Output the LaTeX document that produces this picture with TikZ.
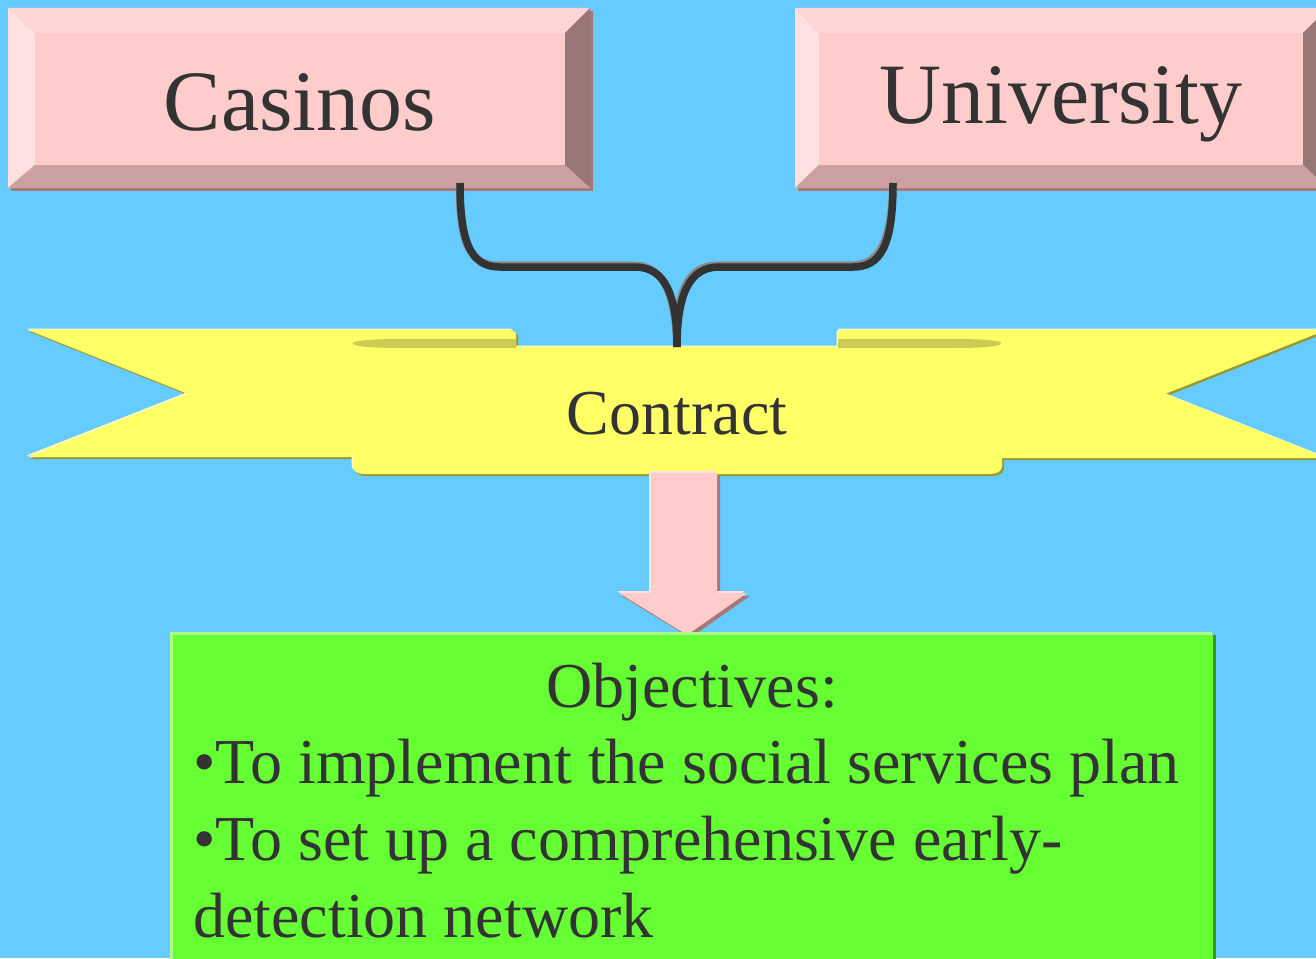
\documentclass[tikz,border=0pt]{standalone}
\usepackage{fontspec}
\setmainfont{Liberation Serif}
\usetikzlibrary{calc}
\definecolor{bg}{HTML}{66CCFF}
\definecolor{pinkface}{HTML}{FFCCCC}
\definecolor{pinktop}{HTML}{FFD6D6}
\definecolor{pinkleft}{HTML}{FFE0E0}
\definecolor{pinkright}{HTML}{997777}
\definecolor{pinkbot}{HTML}{CCA0A0}
\definecolor{pinkshadow}{HTML}{AA7777}
\definecolor{txt}{HTML}{333333}
\definecolor{ribbon}{HTML}{FFFF66}
\definecolor{ribbonfold}{HTML}{CCCC55}
\definecolor{ribbonshadow}{HTML}{999933}
\definecolor{ribbonhi}{HTML}{FFFFBB}
\definecolor{greenface}{HTML}{66FF33}
\definecolor{greenhi}{HTML}{AAFF88}
\definecolor{greenshadow}{HTML}{339922}
\definecolor{linehi}{HTML}{888888}
\tikzset{
  x=1pt, y=-1pt,
  bigtext/.style={text=txt, inner sep=0pt, font=\fontsize{86}{86}\selectfont},
  midtext/.style={text=txt, inner sep=0pt, font=\fontsize{64}{64}\selectfont},
  connector/.style={draw=txt, line width=7.5pt, line cap=butt, line join=round},
  connectorhi/.style={draw=linehi, line width=7.5pt, line cap=butt, line join=round},
}
\begin{document}
\begin{tikzpicture}
\useasboundingbox (0,0) rectangle (1316,958);
\clip (0,0) rectangle (1316,958);
\fill[bg] (0,0) rectangle (1316,958);

% ---------- Casinos bevel box ----------
\fill[pinkshadow] (11,11) rectangle (593,191);
\fill[pinktop]   (8,8) -- (590,8) -- (565,33) -- (35,33) -- cycle;
\fill[pinkleft]  (8,8) -- (35,33) -- (35,165) -- (8,188) -- cycle;
\fill[pinkright] (590,8) -- (590,188) -- (565,165) -- (565,33) -- cycle;
\fill[pinkbot]   (8,188) -- (590,188) -- (565,165) -- (35,165) -- cycle;
\fill[pinkface]  (35,33) rectangle (565,165);
\node[bigtext, anchor=base] (casinos) at (300,130) {Casinos};

% ---------- University bevel box ----------
\fill[pinkshadow] (798,11) rectangle (1331,191);
\fill[pinktop]   (795,8) -- (1328,8) -- (1303,33) -- (819,33) -- cycle;
\fill[pinkleft]  (795,8) -- (819,33) -- (819,165) -- (795,188) -- cycle;
\fill[pinkright] (1328,8) -- (1328,188) -- (1303,165) -- (1303,33) -- cycle;
\fill[pinkbot]   (795,188) -- (1328,188) -- (1303,165) -- (819,165) -- cycle;
\fill[pinkface]  (819,33) rectangle (1303,165);
\node[bigtext, anchor=base] (university) at (1061,123) {University};

% ---------- Ribbon banner ----------
\begin{scope}[shift={(2,2)}]
\fill[ribbonshadow] (28,330) -- (512,330) -- (516,334) -- (516,348) -- (353,348) -- (353,457) -- (28,457) -- (188,394) -- cycle;
\fill[ribbonshadow] (353,347) -- (1002,347) -- (1002,466) .. controls (1002,472) and (996,474) .. (990,474) -- (365,474) .. controls (357,474) and (353,471) .. (353,466) -- cycle;
\fill[ribbonshadow] (840,330) -- (1326,330) -- (1165,394) -- (1326,458) -- (1002,458) -- (1002,347) -- (838,347) -- (838,334) -- cycle;
\end{scope}
\begin{scope}[shift={(-1.5,-1.5)}]
\fill[ribbonhi] (28,330) -- (512,330) -- (516,334) -- (516,348) -- (353,348) -- (353,457) -- (28,457) -- (188,394) -- cycle;
\fill[ribbonhi] (353,347) -- (1002,347) -- (1002,466) .. controls (1002,472) and (996,474) .. (990,474) -- (365,474) .. controls (357,474) and (353,471) .. (353,466) -- cycle;
\fill[ribbonhi] (840,330) -- (1326,330) -- (1165,394) -- (1326,458) -- (1002,458) -- (1002,347) -- (838,347) -- (838,334) -- cycle;
\end{scope}
\fill[ribbon] (28,330) -- (508,330) .. controls (514,330) and (516,332) .. (516,336) -- (516,348) -- (353,348) -- (353,457) -- (28,457) -- (188,394) -- cycle;
\fill[ribbon] (353,347) -- (1002,347) -- (1002,466) .. controls (1002,472) and (996,474) .. (990,474) -- (365,474) .. controls (357,474) and (353,471) .. (353,466) -- cycle;
\fill[ribbon] (844,330) -- (1326,330) -- (1165,394) -- (1326,458) -- (1002,458) -- (1002,347) -- (838,347) -- (838,336) .. controls (838,332) and (840,330) .. (844,330) -- cycle;
\fill[ribbonfold] (516,339) -- (400,339) .. controls (360,339) and (350,342) .. (353,344) .. controls (356,347) and (380,348) .. (400,348) -- (516,348) -- cycle;
\fill[ribbonfold] (838,339) -- (955,339) .. controls (995,339) and (1004,342) .. (1001,344) .. controls (998,347) and (975,348) .. (955,348) -- (838,348) -- cycle;
\node[midtext, anchor=base] (contract) at (677,434) {Contract};

% ---------- Brace connector ----------
\coordinate (casout) at (460,183);
\coordinate (univout) at (893,183);
\coordinate (contractin) at (677,347);
\begin{scope}[shift={(-1.8,-1.8)}]
\draw[connectorhi] (casout) .. controls (460,245) and (472,267) .. (500,267) -- (635,267) .. controls (665,267) and (677,295) .. (contractin);
\draw[connectorhi] (univout) .. controls (893,245) and (881,267) .. (853,267) -- (719,267) .. controls (689,267) and (677,295) .. (contractin);
\end{scope}
\draw[connector] (casout) .. controls (460,245) and (472,267) .. (500,267) -- (635,267) .. controls (665,267) and (677,295) .. (contractin);
\draw[connector] (univout) .. controls (893,245) and (881,267) .. (853,267) -- (719,267) .. controls (689,267) and (677,295) .. (contractin);

% ---------- Pink arrow ----------
\fill[pinkshadow] (654,476) -- (720,476) -- (720,596) -- (750,596) -- (690,638) -- (622,596) -- (654,596) -- cycle;
\fill[pinkleft] (649,471) -- (715,471) -- (715,591) -- (745,591) -- (685,633) -- (617,591) -- (649,591) -- cycle;
\fill[pinkface] (651,473) -- (717,473) -- (717,593) -- (747,593) -- (687,635) -- (619,593) -- (651,593) -- cycle;

% ---------- Green box ----------
\fill[greenshadow] (173,635) rectangle (1216,970);
\fill[greenhi] (170,632) rectangle (1212,970);
\fill[greenface] (173,635) rectangle (1213,970);
\node[midtext, anchor=base] (objectives) at (692,707) {Objectives:};
\node[midtext, anchor=base west] (obj1) at (193,783) {•To implement the social services plan};
\node[midtext, anchor=base west] (obj2) at (193,860) {•To set up a comprehensive early-};
\node[midtext, anchor=base west] (obj3) at (193,937) {detection network};
\end{tikzpicture}
\end{document}
